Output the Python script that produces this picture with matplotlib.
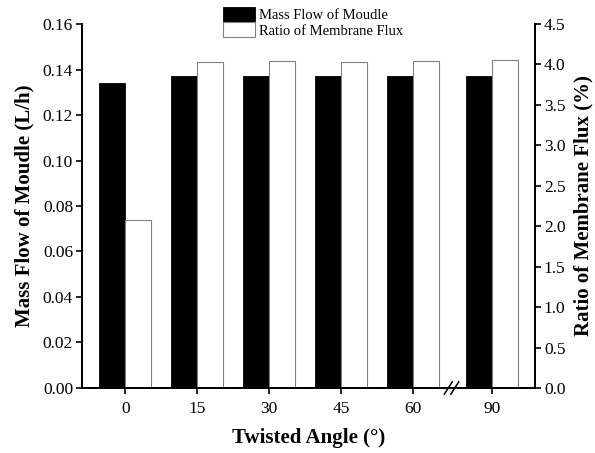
import matplotlib.pyplot as plt
import matplotlib.transforms as mtransforms

plt.rcParams['font.family'] = ['Liberation Serif', 'DejaVu Serif']

# data
angles = ['0', '15', '30', '45', '60', '90']
mass_flow = [0.134, 0.137, 0.137, 0.137, 0.137, 0.137]
flux_ratio = [2.08, 4.03, 4.04, 4.03, 4.045, 4.055]

# x positions, with a break between 60 and 90
pos = [i if i < 5 else i + 0.1 for i in range(len(angles))]
w = 0.36

fig = plt.figure(figsize=(5.95, 4.53), dpi=100)
ax = fig.add_axes([0.138, 0.1435, 0.761, 0.8035])
ax2 = ax.twinx()

ax.bar(pos, mass_flow, width=-w, align='edge', color='black', edgecolor='black',
       linewidth=0.6, label='Mass Flow of Moudle')
ax2.bar(pos, flux_ratio, width=w, align='edge', color='white', edgecolor='#808080',
        linewidth=0.8, label='Ratio of Membrane Flux')

ax.set_xlim(-0.6, 5.7)
ax.set_ylim(0, 0.16)
ax2.set_ylim(0, 4.5)
ax.set_yticks([0, 0.02, 0.04, 0.06, 0.08, 0.10, 0.12, 0.14, 0.16])
ax.set_yticklabels(['%.2f' % v for v in ax.get_yticks()])
ax2.set_yticks([0, 0.5, 1, 1.5, 2, 2.5, 3, 3.5, 4, 4.5])
ax2.set_yticklabels(['%.1f' % v for v in ax2.get_yticks()])
ax.set_xticks(pos)
ax.set_xticklabels(angles)

for a in (ax, ax2):
    a.spines['top'].set_visible(False)
    for s in a.spines.values():
        s.set_linewidth(1.4)
    a.tick_params(direction='out', length=4.5, width=1.2, labelsize=12.5)
ax.tick_params(axis='x', pad=5)
ax.tick_params(axis='y', pad=2)
ax2.tick_params(axis='y', pad=2)

ax.set_xlabel('Twisted Angle (°)', fontsize=15, fontweight='bold', labelpad=8)
ax.set_ylabel('Mass Flow of Moudle (L/h)', fontsize=15, fontweight='bold', labelpad=6)
ax2.set_ylabel('Ratio of Membrane Flux (%)', fontsize=15, fontweight='bold', labelpad=6)

# axis break on the x axis
bx = 4.54
trans = mtransforms.blended_transform_factory(ax.transData, ax.transAxes)
ax.plot([bx - 0.07, bx + 0.07], [0, 0], color='white', lw=3, transform=trans, clip_on=False, zorder=5)
for dx in (-0.045, 0.045):
    ax.plot([bx + dx - 0.055, bx + dx + 0.055], [-0.017, 0.017], color='black', lw=1.1,
            transform=trans, clip_on=False, zorder=6)

h1, l1 = ax.get_legend_handles_labels()
h2, l2 = ax2.get_legend_handles_labels()
fig.legend(h1 + h2, l1 + l2, loc='upper left', bbox_to_anchor=(0.375, 0.985), frameon=False,
           fontsize=10.5, handlelength=2.2, handleheight=1.2, handletextpad=0.25,
           labelspacing=0.0, borderpad=0.0, borderaxespad=0.0)

fig.savefig('out.png', dpi=100)
